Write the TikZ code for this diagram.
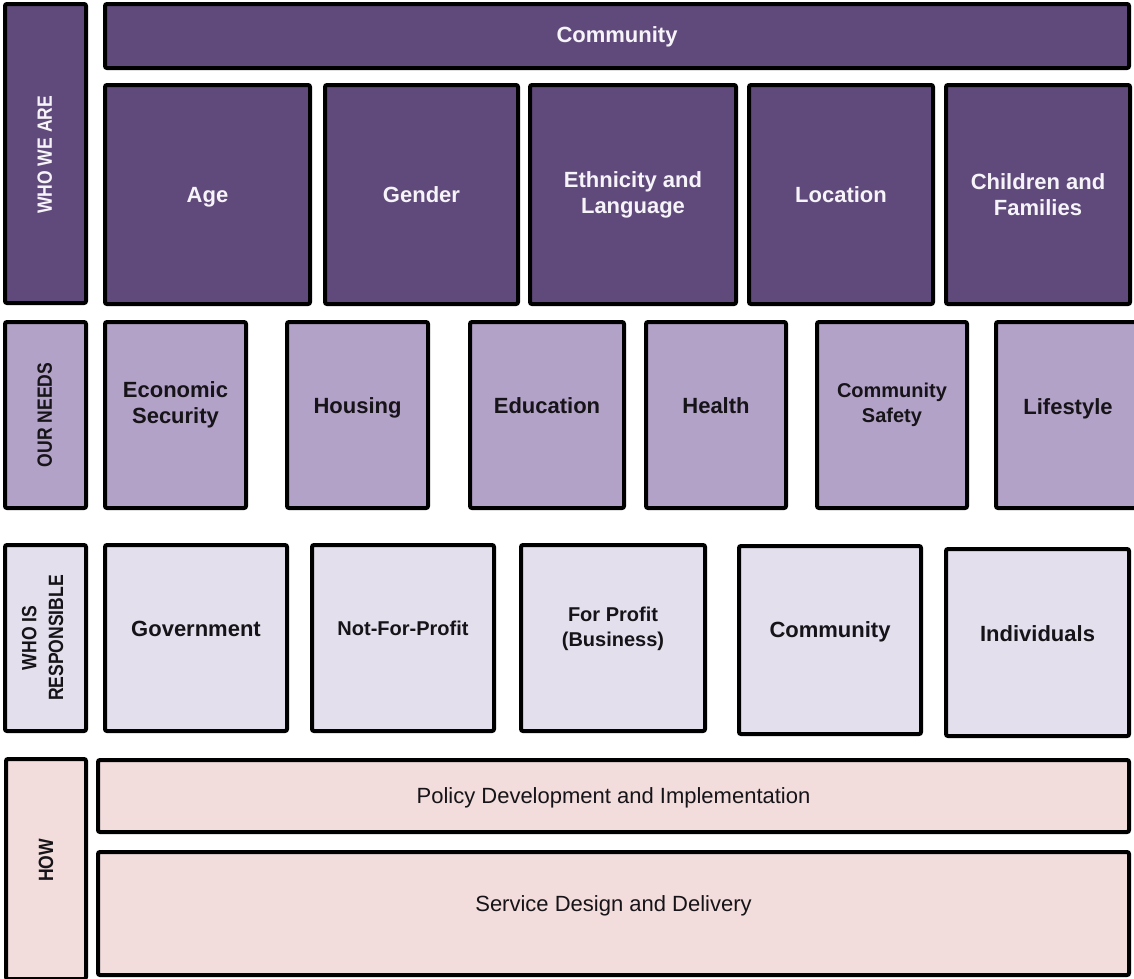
\documentclass[tikz,border=0pt]{standalone}
\usepackage{fontspec}
\setmainfont{Liberation Sans}
\definecolor{dpurple}{RGB}{96,74,123}
\definecolor{mpurple}{RGB}{179,162,200}
\definecolor{lpurple}{RGB}{228,223,236}
\definecolor{lpink}{RGB}{242,220,220}
\definecolor{txtlight}{RGB}{246,244,248}
\definecolor{txtdark}{RGB}{22,20,24}
% name, x1, y1, x2, y2 (outer edges in px), style
\newcommand\panel[6]{\node[panelbox,#6,minimum width={(#4-#2-4)*0.75pt},minimum height={(#5-#3-4)*0.75pt}] (#1) at ({(#2+#4)/2},{(#3+#5)/2}) {};}
\newcommand\sidetext[1]{\scalebox{0.85}[1]{\fontsize{15.5}{18.5}\selectfont\bfseries #1}}
\begin{document}
\begin{tikzpicture}[x=0.75pt,y=-0.75pt,
  panelbox/.style={draw=black,line width=3pt,rounded corners=1.5pt,inner sep=0pt},
  rowA/.style={fill=dpurple},
  rowB/.style={fill=mpurple},
  rowC/.style={fill=lpurple},
  rowD/.style={fill=lpink},
  boldlight/.style={text=txtlight,font=\fontsize{16.5}{19.5}\selectfont\bfseries,align=center,inner sep=0pt},
  bolddark/.style={text=txtdark,font=\fontsize{16.5}{19.5}\selectfont\bfseries,align=center,inner sep=0pt},
  smalldark/.style={text=txtdark,font=\fontsize{15}{18.5}\selectfont\bfseries,align=center,inner sep=0pt},
  plaindark/.style={text=txtdark,font=\fontsize{16.5}{19.5}\selectfont,align=center,inner sep=0pt},
  sidelabel/.style={rotate=90,align=center,inner sep=0pt}]
\useasboundingbox (0,0) rectangle (1134,978);
% ---- row 1: WHO WE ARE
\panel{whoweare}{3}{2}{88}{305}{rowA}
\panel{community}{103}{2}{1131}{70}{rowA}
\panel{age}{103}{83}{312}{306}{rowA}
\panel{gender}{323}{83}{520}{306}{rowA}
\panel{ethnicity}{528}{83}{738}{306}{rowA}
\panel{location}{747}{83}{935}{306}{rowA}
\panel{children}{944}{83}{1132}{306}{rowA}
\node[sidelabel,text=txtlight] (whoweare-t) at ([xshift=-0.5pt,yshift=-1pt]whoweare.center) {\sidetext{WHO WE ARE}};
\node[boldlight] (community-t) at ([yshift=-0.8pt]community.center) {Community};
\node[boldlight] (age-t) at ([yshift=-2pt]age.center) {Age};
\node[boldlight] (gender-t) at (gender.center) {Gender};
\node[boldlight] (ethnicity-t) at (ethnicity.center) {Ethnicity and\\Language};
\node[boldlight] (location-t) at (location.center) {Location};
\node[boldlight] (children-t) at (children.center) {Children and\\Families};
% ---- row 2: OUR NEEDS
\panel{needs}{3}{320}{88}{510}{rowB}
\panel{econ}{103}{320}{248}{510}{rowB}
\panel{housing}{285}{320}{430}{510}{rowB}
\panel{education}{468}{320}{626}{510}{rowB}
\panel{health}{644}{320}{788}{510}{rowB}
\panel{safety}{815}{320}{969}{510}{rowB}
\panel{lifestyle}{994}{320}{1142}{510}{rowB}
\node[sidelabel,text=txtdark] (needs-t) at ([xshift=-0.5pt]needs.center) {\sidetext{OUR NEEDS}};
\node[bolddark] (econ-t) at ([yshift=7.5pt]econ.center) {Economic\\Security};
\node[bolddark] (housing-t) at ([yshift=5pt]housing.center) {Housing};
\node[bolddark] (education-t) at ([yshift=7pt]education.center) {Education};
\node[bolddark] (health-t) at ([yshift=7pt]health.center) {Health};
\node[smalldark] (safety-t) at ([yshift=7.5pt]safety.center) {Community\\Safety};
\node[bolddark] (lifestyle-t) at ([yshift=5pt]lifestyle.center) {Lifestyle};
% ---- row 3: WHO IS RESPONSIBLE
\panel{resp}{3}{543}{88}{733}{rowC}
\panel{gov}{103}{543}{289}{733}{rowC}
\panel{nfp}{310}{543}{496}{733}{rowC}
\panel{fp}{519}{543}{707}{733}{rowC}
\panel{comm3}{737}{544}{923}{736}{rowC}
\panel{indiv}{944}{547}{1131}{738}{rowC}
\node[sidelabel,text=txtdark] (resp-t) at ([xshift=-0.5pt]resp.center) {\sidetext{\begin{tabular}{@{}c@{}}WHO IS\\[1.5pt]RESPONSIBLE\end{tabular}}};
\node[bolddark] (gov-t) at ([yshift=7pt]gov.center) {Government};
\node[smalldark] (nfp-t) at ([yshift=7pt]nfp.center) {Not-For-Profit};
\node[smalldark] (fp-t) at ([yshift=7pt]fp.center) {For Profit\\(Business)};
\node[bolddark] (comm3-t) at ([yshift=6.5pt]comm3.center) {Community};
\node[bolddark] (indiv-t) at ([yshift=7pt]indiv.center) {Individuals};
% ---- row 4: HOW
\panel{how}{4}{757}{88}{981}{rowD}
\panel{policy}{96}{758}{1131}{834}{rowD}
\panel{service}{96}{850}{1131}{977}{rowD}
\node[sidelabel,text=txtdark] (how-t) at ([yshift=6.5pt]how.center) {\sidetext{HOW}};
\node[plaindark] (policy-t) at ([yshift=-1pt]policy.center) {Policy Development and Implementation};
\node[plaindark] (service-t) at ([yshift=5.5pt]service.center) {Service Design and Delivery};
\end{tikzpicture}
\end{document}
